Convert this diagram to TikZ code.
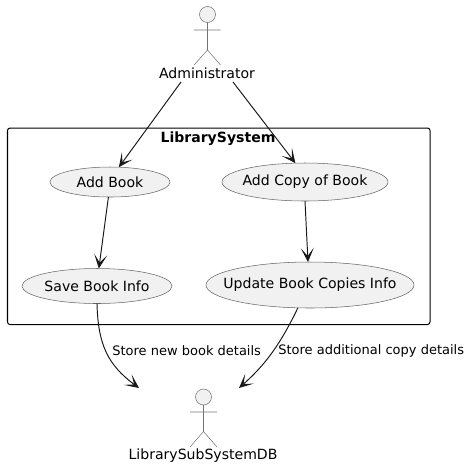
\documentclass[tikz,border=0pt]{standalone}
\usepackage{fontspec}
\setmainfont{DejaVu Sans}
\usetikzlibrary{arrows.meta}
\usetikzlibrary{shapes.geometric}
\def\px{0.02cm}
\def\casetext#1{\makebox[0pt]{#1}}
\tikzset{
	usecase/.style={ellipse,draw=black!60,line width=0.3pt,fill=black!5.5,inner sep=0pt,outer sep=0pt,font=\fontsize{8}{10}\selectfont},
	actorline/.style={draw=black!55,line width=0.3pt},
	actorname/.style={inner sep=0pt,font=\fontsize{8}{10}\selectfont},
	conn/.style={draw=black!90,line width=0.55pt,-{Stealth[length=14*\px,width=13*\px,inset=8*\px]}},
	connlabel/.style={inner sep=0pt,anchor=west,font=\fontsize{7.4}{10}\selectfont}
}
\begin{document}
\begin{tikzpicture}[x=\px,y=-\px]
	\useasboundingbox (0,0) rectangle (470,468);
	% system box
	\draw[line width=0.57pt,rounded corners=2.5*\px] (7.5,128) rectangle (430,324.5);
	\node[inner sep=0pt,font=\bfseries\fontsize{8}{10}\selectfont] (systitle) at (218,139) {LibrarySystem};
	% actors
	\draw[actorline,fill=black!5.5] (207.5,14.5) circle (8);
	\draw[actorline] (207.5,22.5) -- (207.5,50) (194,30) -- (220.5,30) (194,65) -- (207.5,50) -- (220.5,65);
	\node[actorname] (admin) at (207,73) {Administrator};
	\draw[actorline,fill=black!5.5] (203.5,397) circle (8);
	\draw[actorline] (203.5,405) -- (203.5,431.5) (190,412) -- (217,412) (190,447) -- (203.5,431.5) -- (217,447);
	\node[actorname] (dbactor) at (203,456) {LibrarySubSystemDB};
	% use cases
	\node[usecase,minimum width=120*\px,minimum height=30*\px] (addbook) at (110,182) {\casetext{Add Book}};
	\node[usecase,minimum width=150*\px,minimum height=35*\px] (savebook) at (97,286) {\casetext{Save Book Info}};
	\node[usecase,minimum width=166*\px,minimum height=38*\px] (addcopy) at (305,182) {\casetext{Add Copy of Book}};
	\node[usecase,minimum width=208*\px,minimum height=46*\px] (updatecopies) at (310,285) {\casetext{Update Book Copies Info}};
	% free ends of the connectors
	\coordinate (adminleft) at (181,82);
	\coordinate (adminright) at (233,82);
	\coordinate (dbleft) at (139,388);
	\coordinate (dbright) at (239,388);
	\draw[conn] (adminleft) -- (addbook.59);
	\draw[conn] (adminright) -- (addcopy.117);
	\draw[conn] (addbook.264) -- (savebook.84);
	\draw[conn] (addcopy.south) -- (updatecopies.95);
	\draw[conn] (savebook.south) .. controls (98,345) and (108,365) .. (dbleft);
	\draw[conn] (updatecopies.242) .. controls (280,345) and (265,365) .. (dbright);
	\node[connlabel] (newlabel) at (112,350.5) {Store new book details};
	\node[connlabel] (copylabel) at (278,350.5) {Store additional copy details};
\end{tikzpicture}
\end{document}
